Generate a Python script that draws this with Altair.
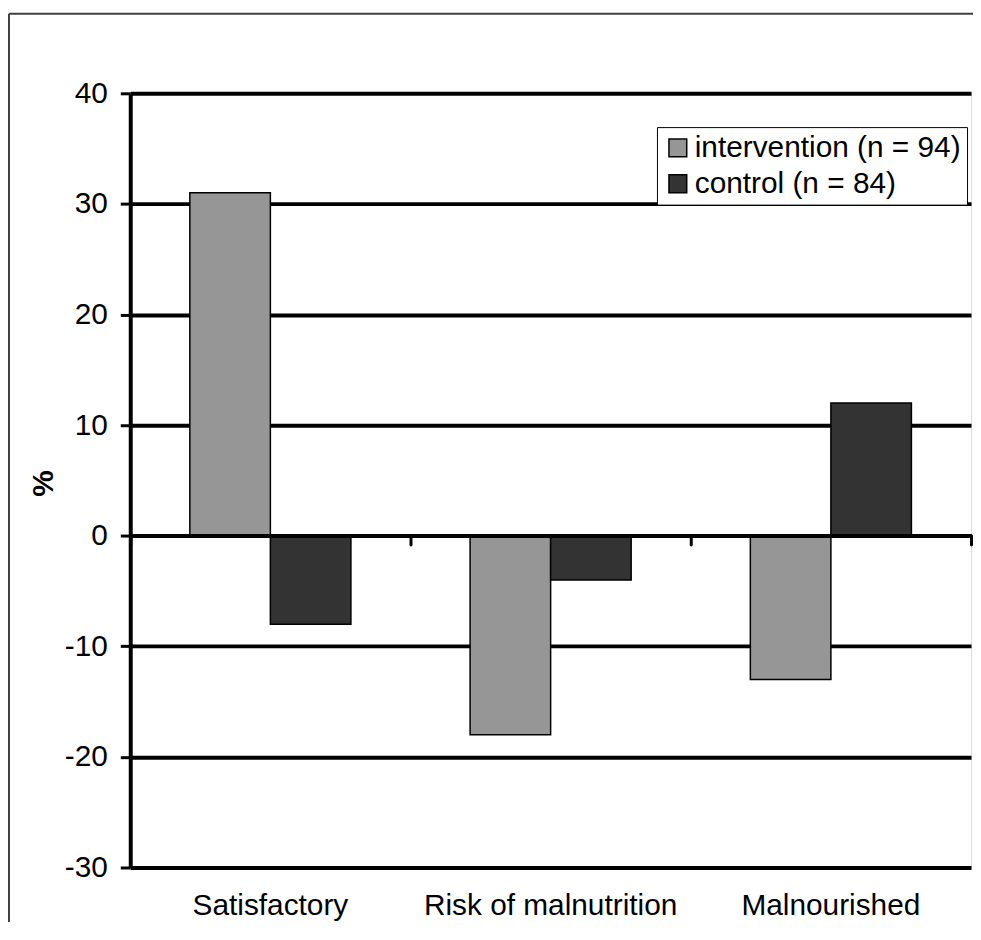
import altair as alt
import pandas as pd

categories = ["Satisfactory", "Risk of malnutrition", "Malnourished"]
series = ["intervention (n = 94)", "control (n = 84)"]
intervention = [31, -18, -13]
control = [-8, -4, 12]
y_ticks = [-30, -20, -10, 0, 10, 20, 30, 40]
colors = ["#969696", "#333333"]

rows = []
for c, a, b in zip(categories, intervention, control):
    rows.append({"category": c, "group": series[0], "value": a})
    rows.append({"category": c, "group": series[1], "value": b})
df = pd.DataFrame(rows)

W, H = 846, 779
FONT = "Liberation Sans"

xscale = alt.Scale(domain=categories, paddingInner=0, paddingOuter=0)
yscale = alt.Scale(domain=[-30, 40], nice=False, zero=True)

bars = alt.Chart(df).mark_bar(stroke="black", strokeWidth=1.5).encode(
    x=alt.X("category:N", sort=categories, scale=xscale,
            axis=alt.Axis(orient="bottom", domain=False, ticks=False, grid=False,
                          labelFontSize=30, labelFont=FONT, labelColor="black",
                          labelPadding=23, labelAngle=0, labelLimit=400, title=None)),
    xOffset=alt.XOffset("group:N", sort=series,
                        scale=alt.Scale(domain=series, paddingInner=0, paddingOuter=0.74)),
    y=alt.Y("value:Q", scale=yscale,
            axis=alt.Axis(values=y_ticks, grid=True, gridColor="black", gridWidth=4,
                          domain=True, domainColor="black", domainWidth=4,
                          ticks=True, tickSize=10, tickWidth=3, tickColor="black",
                          labelExpr="datum.value < 0 ? '-' + abs(datum.value) : '' + datum.value",
                          labelFontSize=30, labelFont=FONT, labelColor="black",
                          labelPadding=13, title="%", titleFont=FONT, titleFontSize=30,
                          titleFontWeight="bold", titleColor="black", titleAngle=270,
                          titleX=-87, titleY=392, titleAlign="center", titleBaseline="middle")),
    color=alt.Color("group:N", sort=series,
                    scale=alt.Scale(domain=series, range=colors),
                    legend=alt.Legend(title=None, orient="none", legendX=530, legendY=34,
                                      symbolType="square", symbolSize=320,
                                      symbolStrokeColor="black", symbolStrokeWidth=1.5,
                                      symbolOpacity=1, labelLimit=500,
                                      labelFontSize=30, labelFont=FONT, labelColor="black",
                                      labelOffset=2, rowPadding=6, padding=6,
                                      strokeColor="black", fillColor="white")),
)

zero_axis = alt.Chart(df).mark_point(opacity=0).encode(
    x=alt.X("category:N", sort=categories, scale=xscale,
            axis=alt.Axis(orient="bottom", offset=-334, domain=True, domainColor="black",
                          domainWidth=4, ticks=True, tickBand="extent", tickSize=9,
                          tickWidth=3, tickColor="black", tickCap="round",
                          labels=False, grid=False, title=None, zindex=1)),
    y=alt.Y("value:Q", scale=yscale, axis=None),
)

frame_data = alt.Data(values=[{"k": 1}])
frame_left = alt.Chart(frame_data).mark_rule(color="#404040", strokeWidth=2).encode(
    x=alt.value(-122), x2=alt.value(-122), y=alt.value(-80), y2=alt.value(H + 60))
frame_top = alt.Chart(frame_data).mark_rule(color="#404040", strokeWidth=2).encode(
    x=alt.value(-122), x2=alt.value(W + 10), y=alt.value(-80), y2=alt.value(-80))

chart = alt.layer(bars, zero_axis, frame_left, frame_top).resolve_axis(
    x="independent", y="independent"
).properties(
    width=W, height=H,
    autosize=alt.AutoSizeParams(type="none"),
    padding={"left": 123, "top": 83, "right": 2, "bottom": 52},
).configure_view(stroke=None).configure(background="white")

chart.save("out.html", embed_options={"renderer": "svg", "actions": False})
